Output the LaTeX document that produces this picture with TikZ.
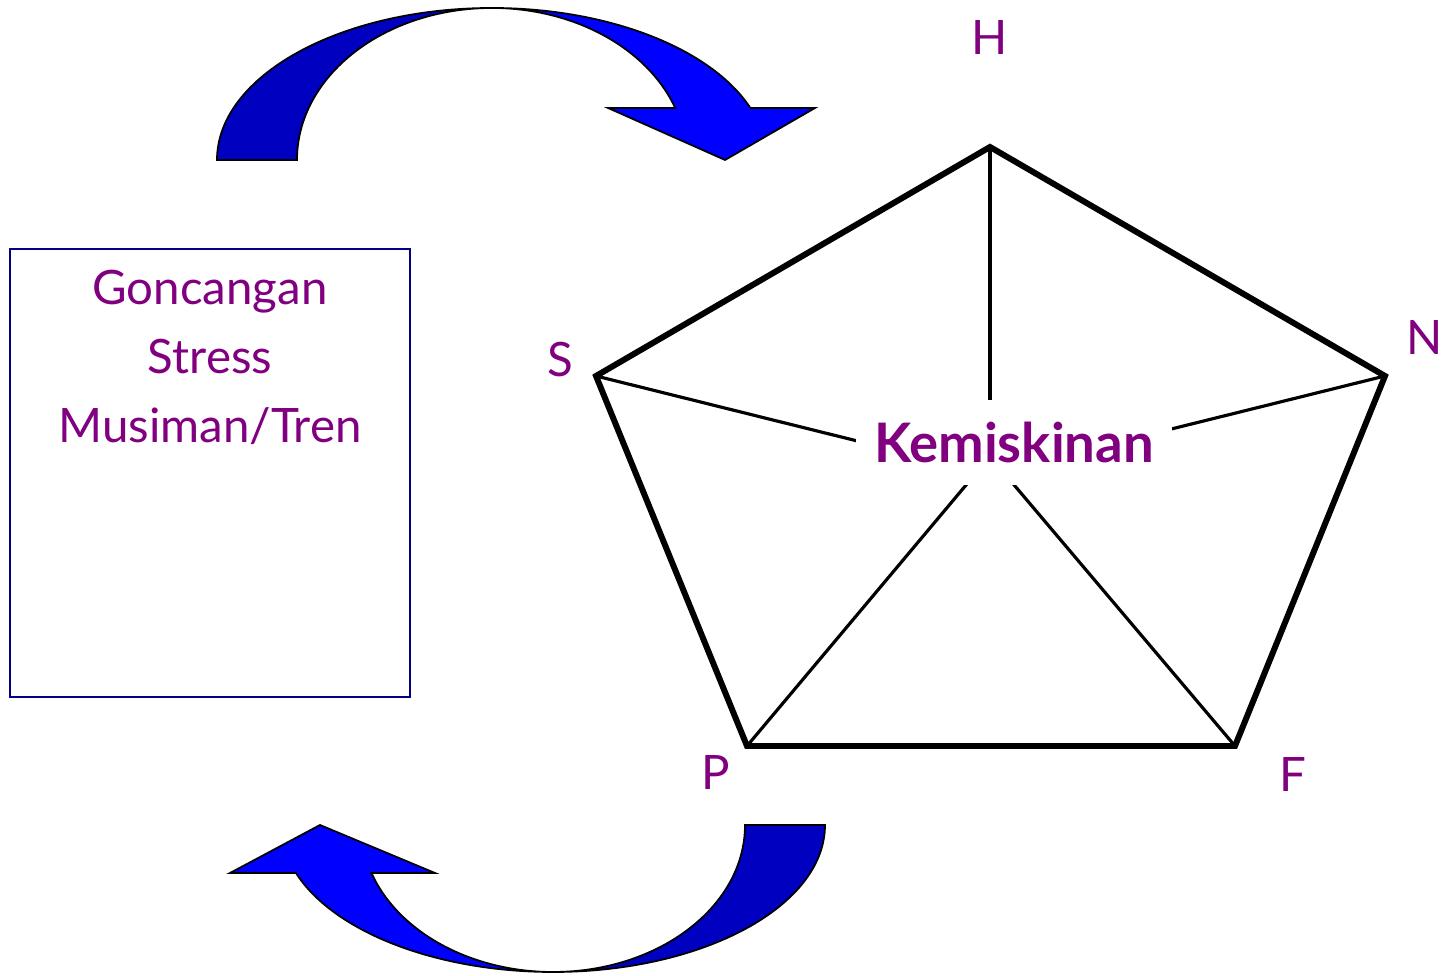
\documentclass[tikz,border=0pt]{standalone}
\usepackage{fontspec}
\setmainfont{Lato}
\definecolor{txtpurple}{HTML}{800080}
\definecolor{arrowdark}{HTML}{0000C0}
\definecolor{arrowlight}{HTML}{0000FF}
\definecolor{boxnavy}{HTML}{000080}
\begin{document}
\begin{tikzpicture}[x=0.02cm,y=0.02cm,
  lbl/.style={text=txtpurple, font=\fontsize{27}{32}\selectfont, inner sep=0pt},
  boxtxt/.style={text=txtpurple, font=\fontsize{27}{32}\selectfont, inner sep=0pt, anchor=base},
  centertxt/.style={text=txtpurple, font=\bfseries\fontsize{31}{36}\selectfont, fill=white, inner sep=0pt, minimum width=6.33cm, minimum height=1.70cm},
  edge5/.style={line width=3.4pt, line join=miter},
  spoke/.style={line width=1.8pt},
  curvedarrow/.style={draw=black, line width=1pt, line join=miter},
  framebox/.style={draw=boxnavy, line width=0.9pt, minimum width=8cm, minimum height=8.96cm, inner sep=0pt}]
\useasboundingbox (0,0) rectangle (1451,976);

% left box
\node[framebox] (box) at (210,503) {};
\node[boxtxt] (t1) at (210,671) {Goncangan};
\node[boxtxt] (t2) at (210,602) {Stress};
\node[boxtxt] (t3) at (210,533) {Musiman/Tren};

% pentagon vertices
\coordinate (H) at (990,829);
\coordinate (N) at (1385,600);
\coordinate (F) at (1235,230);
\coordinate (P) at (747,230);
\coordinate (S) at (596,600);
\coordinate (Cu) at (990,502);
\coordinate (Cl) at (990,519.5);

\draw[spoke] (H) -- (Cu);
\draw[spoke] (N) -- (Cu);
\draw[spoke] (S) -- (Cu);
\draw[spoke] (F) -- (Cl);
\draw[spoke] (P) -- (Cl);
\node[centertxt] (K) at (1013.9,533.5) {Kemiskinan};
\draw[edge5] (H) -- (N) -- (F) -- (P) -- (S) -- cycle;

\node[lbl] (lH) at (990,938) {H};
\node[lbl] (lN) at (1425,638) {N};
\node[lbl] (lF) at (1293,201) {F};
\node[lbl] (lP) at (716,203) {P};
\node[lbl] (lS) at (560,616) {S};

% top curved arrow
\filldraw[curvedarrow, fill=arrowdark] (217,816)
  arc[start angle=180, end angle=90, x radius=275, y radius=152]
  arc[start angle=90, end angle=180, x radius=195, y radius=152] -- cycle;
\filldraw[curvedarrow, fill=arrowlight] (492,968)
  arc[start angle=90, end angle=20, x radius=275, y radius=152]
  -- (815,868) -- (725,816) -- (608,868) -- (675.2,868)
  arc[start angle=20, end angle=90, x radius=195, y radius=152] -- cycle;

% bottom curved arrow
\filldraw[curvedarrow, fill=arrowdark] (825,151)
  arc[start angle=0, end angle=-90, x radius=272, y radius=147]
  arc[start angle=-90, end angle=0, x radius=192, y radius=147] -- cycle;
\filldraw[curvedarrow, fill=arrowlight] (553,4)
  arc[start angle=-90, end angle=-160.94, x radius=272, y radius=147]
  -- (230,103) -- (320,151) -- (435,103) -- (371.5,103)
  arc[start angle=-160.94, end angle=-90, x radius=192, y radius=147] -- cycle;
\end{tikzpicture}
\end{document}
